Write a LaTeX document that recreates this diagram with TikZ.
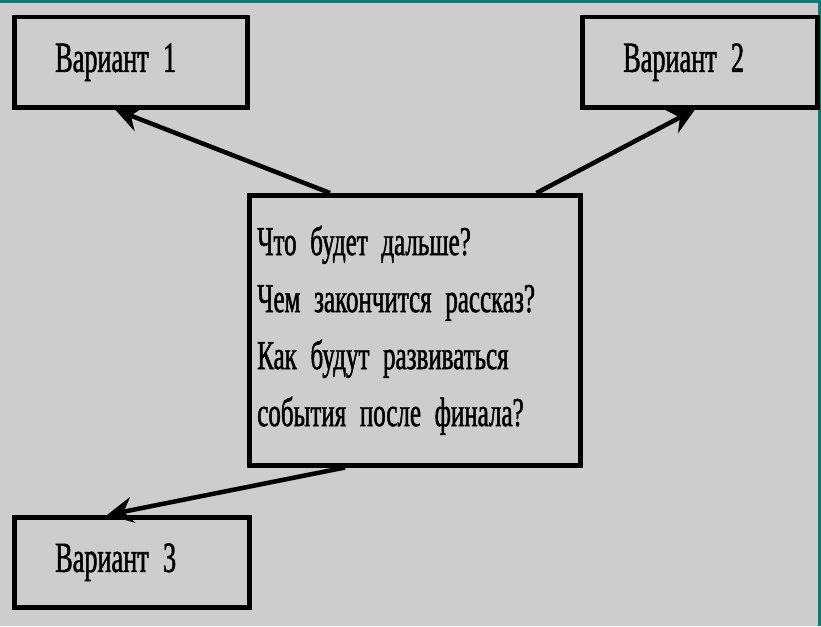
\documentclass[tikz,border=0pt]{standalone}
\usepackage{fontspec}
\setmainfont{Liberation Serif}
\newfontfamily\condfont[FakeStretch=0.61,FakeBold=1.2]{Liberation Serif}
\usetikzlibrary{arrows.meta,calc}
\definecolor{bg}{HTML}{CDCDCD}
\definecolor{teal}{HTML}{0A7A78}
\tikzset{
  varbox/.style={draw=black, line width=4.5pt, anchor=north west, minimum height=90pt,
    inner xsep=41pt, inner ysep=0pt, text width=151pt, align=left,
    font=\condfont\fontsize{43}{50}\selectfont},
  qbox/.style={draw=black, line width=4.5pt, anchor=north west, minimum height=270pt,
    inner xsep=8pt, inner ysep=0pt, text width=315pt, align=left,
    font=\condfont\fontsize{41}{57}\selectfont},
  arr/.style={line width=4.5pt, -{Stealth[length=26pt,width=26pt,inset=9pt]}}
}
\begin{document}
\begin{tikzpicture}[x=1pt,y=-1pt]
\fill[bg] (0,0) rectangle (821,626);
\useasboundingbox (0,0) rectangle (821,626);
\draw[teal, line width=3pt] (0,1.5) -- (819.5,1.5) -- (819.5,626);
\node[varbox] (v1) at (12,15) {Вариант 1};
\node[varbox, text width=153pt] (v2) at (580,15) {Вариант 2};
\node[varbox, text width=153pt] (v3) at (12,515) {Вариант 3};
\node[qbox] (q) at (247,193) {Что будет дальше?\\Чем закончится рассказ?\\Как будут развиваться\\события после финала?};
\draw[arr] ([xshift=83pt]q.north west) -- ([xshift=103pt]v1.south west);
\draw[arr] ([xshift=-46pt]q.north east) -- ([xshift=115pt]v2.south west);
\draw[arr] ([xshift=98pt]q.south west) -- ([xshift=95pt]v3.north west);
\end{tikzpicture}
\end{document}
